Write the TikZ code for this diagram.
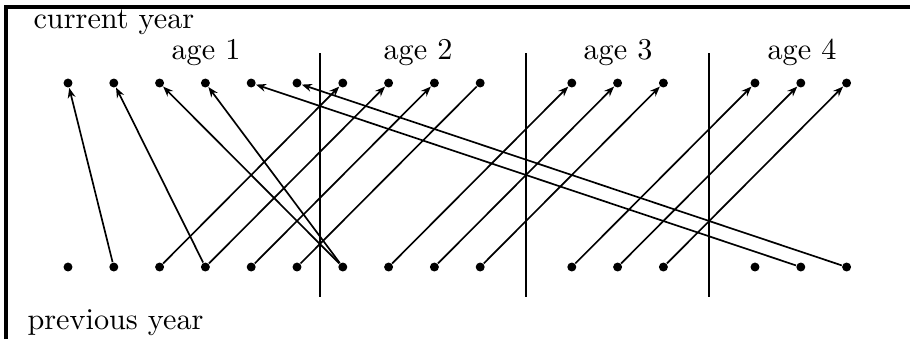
\documentclass[tikz,border=0pt]{standalone}
\usepackage{tikz}
\usetikzlibrary{arrows.meta}

\begin{document}
\begin{tikzpicture}[
    x=0.3571pt, y=-0.3571pt,
    fish/.style={circle, fill=black, inner sep=0pt, minimum size=3.2pt},
    arr/.style={-{Stealth[length=3.6pt, width=2.8pt]}, semithick},
    lnk/.style={semithick},
    sep/.style={semithick},
    txt/.style={font=\fontsize{10.8}{12}\selectfont, inner sep=0pt},
  ]
    \useasboundingbox (0,0) rectangle (910,339);

    % Frame (top and left edges)
    \draw[very thick] (6,339) -- (6,7) -- (910,7);

    % Labels
    \node[txt, anchor=base west] (cur) at (33,28) {current year};
    \node[txt, anchor=base west] (prev) at (27,329) {previous year};
    \node[txt, anchor=base] (a1) at (206,59) {age 1};
    \node[txt, anchor=base] (a2) at (418,59) {age 2};
    \node[txt, anchor=base] (a3) at (618,59) {age 3};
    \node[txt, anchor=base] (a4) at (802,59) {age 4};

    % Fish in current year (top) and previous year (bottom)
    \foreach \i in {0,...,9,11,12,13,15,16,17} {
      \node[fish] (t\i) at (68+45.8*\i,83) {};
      \node[fish] (b\i) at (68+45.8*\i,267) {};
    }

    % Age separators
    \foreach \i/\n in {5.5/s1, 10/s2, 14/s3} {
      \coordinate (\n top) at (68+45.8*\i,53);
      \coordinate (\n bot) at (68+45.8*\i,297);
      \draw[sep] (\n top) -- (\n bot);
    }

    % Moves from previous year to current year
    \foreach \f/\t in {1/0, 3/1, 6/2, 6/3, 16/4, 17/5, 2/6, 3/7, 4/8,
                       7/11, 8/12, 9/13, 11/15, 12/16, 13/17}
      \draw[arr] (b\f) -- (t\t);
    \draw[lnk] (b5) -- (t9);

  \end{tikzpicture}
\end{document}
